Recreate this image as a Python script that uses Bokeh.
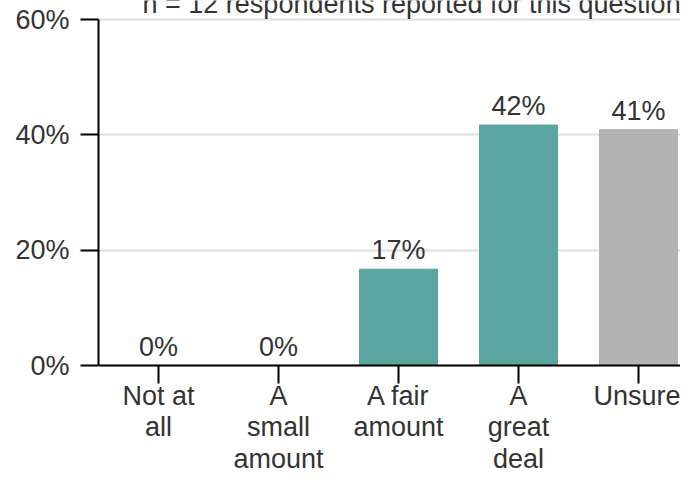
from bokeh.plotting import figure
from bokeh.models import ColumnDataSource, Range1d, FixedTicker, PrintfTickFormatter, LabelSet, Label
from bokeh.core.properties import value
from bokeh.embed import file_html
from bokeh.resources import INLINE

# ---- data ----
categories = ["Not at\nall", "A\nsmall\namount", "A fair\namount", "A\ngreat\ndeal", "Unsure"]
values = [0, 0, 16.7, 41.7, 40.9]
y_ticks = [0, 20, 40, 60]
title_text = "n = 12 respondents reported for this question"

TEAL = "#5ba4a0"
GRAY = "#b3b3b3"
TEXT = "#333333"
FONT = "Liberation Sans"
FS = "27px"

# layout (pixels): value axis runs from y=365 (0%) up to y=19 (60%) on a 473px-tall canvas
PX_PER_UNIT = 346 / 60
Y_START = -(473 - 365) / PX_PER_UNIT
Y_END = 60 + 19 / PX_PER_UNIT

xpos = [i + 0.5 for i in range(len(categories))]
colors = [TEAL, TEAL, TEAL, TEAL, GRAY]
labels = [f"{round(v)}%" for v in values]

src = ColumnDataSource(dict(x=xpos, top=values, color=colors, label=labels))

p = figure(width=680, height=473, output_backend="svg", toolbar_location=None,
           x_range=Range1d(0, 582 / 120), y_range=Range1d(Y_START, Y_END),
           min_border_left=98, min_border_right=0, min_border_top=0, min_border_bottom=0)
p.outline_line_color = None
p.background_fill_color = "white"
p.border_fill_color = "white"

p.vbar(x="x", top="top", bottom=0, width=0.65, color="color", source=src)

labs = LabelSet(x="x", y="top", text="label", source=src, y_offset=10,
                text_align="center", text_baseline="alphabetic",
                text_font=value(FONT), text_font_size=FS, text_color=TEXT)
p.add_layout(labs)

title = Label(x=0.367, y=60, y_offset=16, text=title_text, text_align="left",
              text_baseline="alphabetic",
              text_font=FONT, text_font_size=FS, text_color=TEXT)
p.add_layout(title)

# grid
p.xgrid.grid_line_color = None
p.ygrid.grid_line_color = "#dedede"
p.ygrid.grid_line_width = 2
p.ygrid.ticker = FixedTicker(ticks=y_ticks)

# axes
p.yaxis.ticker = FixedTicker(ticks=y_ticks)
p.yaxis.formatter = PrintfTickFormatter(format="%d%%")
p.yaxis.bounds = (0, 60)
p.xaxis.ticker = FixedTicker(ticks=xpos)
p.xaxis.major_label_overrides = {x: c for x, c in zip(xpos, categories)}
p.xaxis.fixed_location = 0

for ax in (p.xaxis, p.yaxis):
    ax.axis_line_color = "black"
    ax.axis_line_width = 2
    ax.major_tick_line_color = "black"
    ax.major_tick_line_width = 2
    ax.major_tick_out = 18
    ax.major_tick_in = 0
    ax.minor_tick_line_color = None
    ax.major_label_text_font = FONT
    ax.major_label_text_font_size = FS
    ax.major_label_text_color = TEXT

p.yaxis.major_label_standoff = 11
p.xaxis.major_label_standoff = -3
p.xaxis.major_label_text_line_height = 1.06
p.xaxis.major_label_orientation = "horizontal"

open("out.html", "w").write(file_html(p, INLINE))
